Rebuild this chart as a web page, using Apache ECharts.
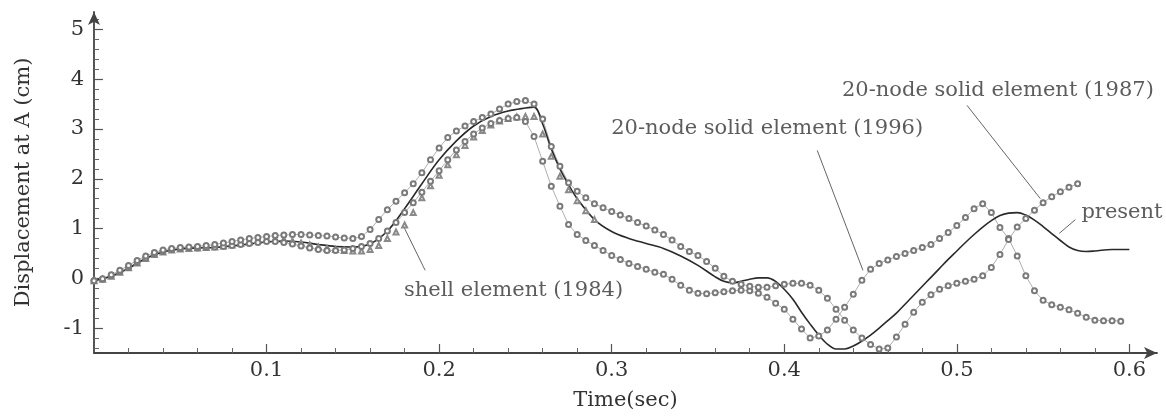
<!DOCTYPE html>
<html>
<head>
<meta charset="utf-8">
<script src="https://cdn.jsdelivr.net/npm/echarts@6/dist/echarts.min.js"></script>
<style>
  html, body { margin: 0; padding: 0; background: #fff; }
  #chart { width: 1166px; height: 416px; }
</style>
</head>
<body>
<div id="chart"></div>
<script>
// sample times of the marker curves (sec)
var tMarks = [
  0, 0.005, 0.01, 0.015, 0.02, 0.025, 0.03, 0.035, 0.04, 0.045,
  0.05, 0.055, 0.06, 0.065, 0.07, 0.075, 0.08, 0.085, 0.09, 0.095,
  0.1, 0.105, 0.11, 0.115, 0.12, 0.125, 0.13, 0.135, 0.14, 0.145,
  0.15, 0.155, 0.16, 0.165, 0.17, 0.175, 0.18, 0.185, 0.19, 0.195,
  0.2, 0.205, 0.21, 0.215, 0.22, 0.225, 0.23, 0.235, 0.24, 0.245,
  0.25, 0.255, 0.26, 0.265, 0.27, 0.275, 0.28, 0.285, 0.29, 0.295,
  0.3, 0.305, 0.31, 0.315, 0.32, 0.325, 0.33, 0.335, 0.34, 0.345,
  0.35, 0.355, 0.36, 0.365, 0.37, 0.375, 0.38, 0.385, 0.39, 0.395,
  0.4, 0.405, 0.41, 0.415, 0.42, 0.425, 0.43, 0.435, 0.44, 0.445,
  0.45, 0.455, 0.46, 0.465, 0.47, 0.475, 0.48, 0.485, 0.49, 0.495,
  0.5, 0.505, 0.51, 0.515, 0.52, 0.525, 0.53, 0.535, 0.54, 0.545,
  0.55, 0.555, 0.56, 0.565, 0.57, 0.575, 0.58, 0.585, 0.59, 0.595
];

// 20-node solid element (1996)
var ySolid1996 = [
  -0.05, -0.02, 0.05, 0.13, 0.22, 0.32, 0.41, 0.49, 0.54, 0.58,
  0.6, 0.61, 0.61, 0.62, 0.63, 0.64, 0.66, 0.68, 0.7, 0.72,
  0.74, 0.74, 0.72, 0.69, 0.65, 0.61, 0.58, 0.56, 0.56, 0.57,
  0.6, 0.64, 0.7, 0.8, 0.95, 1.12, 1.32, 1.52, 1.73, 1.95,
  2.16, 2.38, 2.58, 2.75, 2.9, 3.02, 3.11, 3.17, 3.21, 3.23,
  3.15, 2.85, 2.35, 1.85, 1.45, 1.08, 0.88, 0.76, 0.66, 0.56,
  0.46, 0.38, 0.3, 0.24, 0.18, 0.12, 0.08, -0.02, -0.14, -0.24,
  -0.3, -0.31, -0.29, -0.27, -0.25, -0.24, -0.25, -0.3, -0.38, -0.5,
  -0.62, -0.82, -1.02, -1.2, -1.16, -1.04, -0.82, -0.58, -0.32, -0.04,
  0.18, 0.3, 0.37, 0.44, 0.5, 0.56, 0.62, 0.68, 0.8, 0.92,
  1.06, 1.22, 1.4, 1.5, 1.32, 1.02, 0.8, 0.45, 0.05, -0.25,
  -0.44, -0.53, -0.58, -0.63, -0.7, -0.78, -0.84, -0.85, -0.85, -0.86
];

// 20-node solid element (1987)
var ySolid1987 = [
  -0.05, -0.01, 0.07, 0.16, 0.26, 0.36, 0.45, 0.52, 0.57, 0.6,
  0.62, 0.63, 0.64, 0.66, 0.68, 0.71, 0.74, 0.77, 0.8, 0.82,
  0.84, 0.86, 0.87, 0.88, 0.88, 0.87, 0.86, 0.85, 0.83, 0.81,
  0.8, 0.84, 0.98, 1.18, 1.38, 1.55, 1.72, 1.9, 2.12, 2.38,
  2.62, 2.83, 2.96, 3.06, 3.15, 3.23, 3.3, 3.4, 3.5, 3.55,
  3.57, 3.5, 3.2, 2.65, 2.25, 1.92, 1.75, 1.62, 1.5, 1.42,
  1.34, 1.27, 1.2, 1.12, 1.05, 0.97, 0.88, 0.77, 0.64, 0.54,
  0.46, 0.34, 0.2, 0.04, -0.06, -0.12, -0.16, -0.18, -0.18, -0.15,
  -0.12, -0.1, -0.1, -0.14, -0.24, -0.4, -0.62, -0.84, -1.04, -1.2,
  -1.33, -1.42, -1.4, -1.18, -0.92, -0.68, -0.48, -0.33, -0.22, -0.15,
  -0.1, -0.06, -0.02, 0.05, 0.22, 0.48, 0.78, 1.03, 1.2, 1.37,
  1.52, 1.64, 1.74, 1.83, 1.9
];

// shell element (1984)
var yShell1984 = [
  -0.05, -0.02, 0.04, 0.12, 0.21, 0.31, 0.4, 0.48, 0.53, 0.57,
  0.59, 0.6, 0.61, 0.62, 0.63, 0.65, 0.67, 0.7, 0.73, 0.76,
  0.78, 0.79, 0.78, 0.75, 0.71, 0.67, 0.63, 0.6, 0.58, 0.56,
  0.55, 0.55, 0.58, 0.66, 0.8, 0.93, 1.07, 1.32, 1.62, 1.86,
  2.07, 2.28, 2.48, 2.67, 2.84, 2.97, 3.08, 3.16, 3.21, 3.24,
  3.25, 3.25, 2.9, 2.45, 2.05, 1.78, 1.56, 1.36, 1.18
];

// present
var tPresent = [
  0, 0.01, 0.02, 0.03, 0.04, 0.05, 0.06, 0.07, 0.08, 0.09,
  0.1, 0.11, 0.12, 0.13, 0.14, 0.15, 0.16, 0.17, 0.18, 0.19,
  0.2, 0.21, 0.22, 0.23, 0.24, 0.25, 0.255, 0.26, 0.265, 0.27,
  0.275, 0.28, 0.29, 0.3, 0.31, 0.32, 0.33, 0.34, 0.35, 0.36,
  0.365, 0.37, 0.375, 0.38, 0.385, 0.39, 0.395, 0.4, 0.405, 0.41,
  0.415, 0.42, 0.425, 0.43, 0.435, 0.44, 0.445, 0.45, 0.455, 0.46,
  0.465, 0.47, 0.475, 0.48, 0.485, 0.49, 0.495, 0.5, 0.505, 0.51,
  0.515, 0.52, 0.525, 0.53, 0.535, 0.54, 0.545, 0.55, 0.555, 0.56,
  0.565, 0.57, 0.575, 0.58, 0.59, 0.6
];
var yPresent = [
  -0.05, 0.04, 0.2, 0.4, 0.53, 0.59, 0.61, 0.62, 0.65, 0.69,
  0.73, 0.75, 0.73, 0.68, 0.64, 0.63, 0.69, 0.95, 1.4, 1.9,
  2.38, 2.76, 3.06, 3.25, 3.36, 3.42, 3.44, 3.1, 2.6, 2.2,
  1.88, 1.6, 1.18, 0.94, 0.8, 0.7, 0.6, 0.45, 0.26, 0.03,
  -0.06, -0.09, -0.06, -0.02, 0.01, 0.01, -0.06, -0.22, -0.42, -0.68,
  -0.92, -1.14, -1.32, -1.42, -1.42, -1.36, -1.26, -1.14, -1.0, -0.85,
  -0.7, -0.52, -0.34, -0.16, 0.02, 0.2, 0.38, 0.55, 0.72, 0.88,
  1.03, 1.16, 1.26, 1.31, 1.32, 1.27, 1.17, 1.04, 0.9, 0.76,
  0.63, 0.56, 0.54, 0.55, 0.58, 0.58
];

// axis ticks
var xMajor = [0.1, 0.2, 0.3, 0.4, 0.5, 0.6];
var xMinor = [0.02, 0.04, 0.06, 0.08, 0.12, 0.14, 0.16, 0.18, 0.22, 0.24, 0.26, 0.28,
  0.32, 0.34, 0.36, 0.38, 0.42, 0.44, 0.46, 0.48, 0.52, 0.54, 0.56, 0.58];
var yMajor = [-1, 0, 1, 2, 3, 4, 5];
var yMinor = [-1.4, -1.2, -0.8, -0.6, -0.4, -0.2, 0.2, 0.4, 0.6, 0.8, 1.2, 1.4, 1.6, 1.8,
  2.2, 2.4, 2.6, 2.8, 3.2, 3.4, 3.6, 3.8, 4.2, 4.4, 4.6, 4.8, 5.2];

// annotations: text, text position, leader line start, leader line end
var noteText = ['20-node solid element (1987)', '20-node solid element (1996)', 'present', 'shell element (1984)'];
var notePos = [[0.5238, 3.775], [0.3901, 3.006], [0.5957, 1.331], [0.2431, -0.241]];
var leaderFrom = [[0.5059, 3.474], [0.4191, 2.57], [0.5687, 1.179], [0.1919, 0.161]];
var leaderTo = [[0.5484, 1.6], [0.4456, 0.161], [0.5594, 0.904], [0.1791, 1.064]];

function pairs(xs, ys) {
  return ys.map(function (v, i) { return [xs[i], v]; });
}

var font = '"DejaVu Serif", "Liberation Serif", serif';
var ink = '#333';
var X_MAX = 0.616, Y_MIN = -1.5, Y_MAX = 5.35;

var myChart = echarts.init(document.getElementById('chart'));
myChart.setOption({
  animation: false,
  backgroundColor: '#fff',
  textStyle: { fontFamily: font },
  grid: { left: 94, right: 9, top: 12, bottom: 63 },
  xAxis: [
    {
      type: 'value', position: 'bottom', min: 0, max: X_MAX,
      name: 'Time(sec)', nameLocation: 'middle', nameGap: 37,
      nameTextStyle: { fontFamily: font, fontSize: 21, color: ink },
      axisLine: { show: true, onZero: false, symbol: ['none', 'arrow'], symbolSize: [9, 13],
        lineStyle: { color: '#444', width: 1.8 } },
      axisTick: { show: true, inside: true, length: 9, customValues: xMajor,
        lineStyle: { color: '#555', width: 1.2 } },
      axisLabel: { show: true, margin: 7, customValues: xMajor, fontFamily: font, fontSize: 21, color: ink,
        formatter: function (v) { return v.toFixed(1); } },
      splitLine: { show: false }
    },
    {
      type: 'value', position: 'bottom', min: 0, max: X_MAX,
      axisLine: { show: false, onZero: false },
      axisTick: { show: true, inside: true, length: 5, customValues: xMinor,
        lineStyle: { color: '#666', width: 1 } },
      axisLabel: { show: false },
      splitLine: { show: false }
    }
  ],
  yAxis: [
    {
      type: 'value', position: 'left', min: Y_MIN, max: Y_MAX,
      name: 'Displacement at A (cm)', nameLocation: 'middle', nameGap: 60,
      nameTextStyle: { fontFamily: font, fontSize: 21, color: ink },
      axisLine: { show: true, onZero: false, symbol: ['none', 'arrow'], symbolSize: [9, 13],
        lineStyle: { color: '#444', width: 1.8 } },
      axisTick: { show: true, inside: true, length: 9, customValues: yMajor,
        lineStyle: { color: '#555', width: 1.2 } },
      axisLabel: { show: true, margin: 10, customValues: yMajor, fontFamily: font, fontSize: 21, color: ink },
      splitLine: { show: false }
    },
    {
      type: 'value', position: 'left', min: Y_MIN, max: Y_MAX,
      axisLine: { show: false, onZero: false },
      axisTick: { show: true, inside: true, length: 5, customValues: yMinor,
        lineStyle: { color: '#666', width: 1 } },
      axisLabel: { show: false },
      splitLine: { show: false }
    }
  ],
  series: [
    {
      id: 'shell1984',
      type: 'line',
      data: pairs(tMarks, yShell1984),
      showSymbol: true,
      symbol: 'emptyTriangle',
      symbolSize: 5,
      itemStyle: { color: '#8a8a8a', borderWidth: 1 },
      lineStyle: { width: 0 }
    },
    {
      id: 'solid1996',
      type: 'line',
      data: pairs(tMarks, ySolid1996),
      showSymbol: true,
      symbol: 'emptyCircle',
      symbolSize: 5,
      itemStyle: { color: '#7a7a7a', borderWidth: 1 },
      lineStyle: { color: '#999', width: 0.8 }
    },
    {
      id: 'solid1987',
      type: 'line',
      data: pairs(tMarks, ySolid1987),
      showSymbol: true,
      symbol: 'emptyCircle',
      symbolSize: 5,
      itemStyle: { color: '#7a7a7a', borderWidth: 1 },
      lineStyle: { color: '#999', width: 0.8 }
    },
    {
      id: 'presentCurve',
      type: 'line',
      data: pairs(tPresent, yPresent),
      showSymbol: false,
      smooth: 0.35,
      lineStyle: { color: '#2a2a2a', width: 1.6 }
    },
    {
      id: 'leaders',
      type: 'lines',
      coordinateSystem: 'cartesian2d',
      data: leaderFrom.map(function (p, i) { return { coords: [p, leaderTo[i]] }; }),
      lineStyle: { color: '#666', width: 1, opacity: 1 },
      silent: true
    },
    {
      id: 'notes',
      type: 'scatter',
      symbolSize: 0,
      data: notePos.map(function (p, i) {
        return {
          value: p,
          label: {
            show: true, position: 'inside', formatter: noteText[i],
            fontFamily: font, fontSize: 21, color: ink
          }
        };
      }),
      silent: true
    }
  ]
});
</script>
</body>
</html>
